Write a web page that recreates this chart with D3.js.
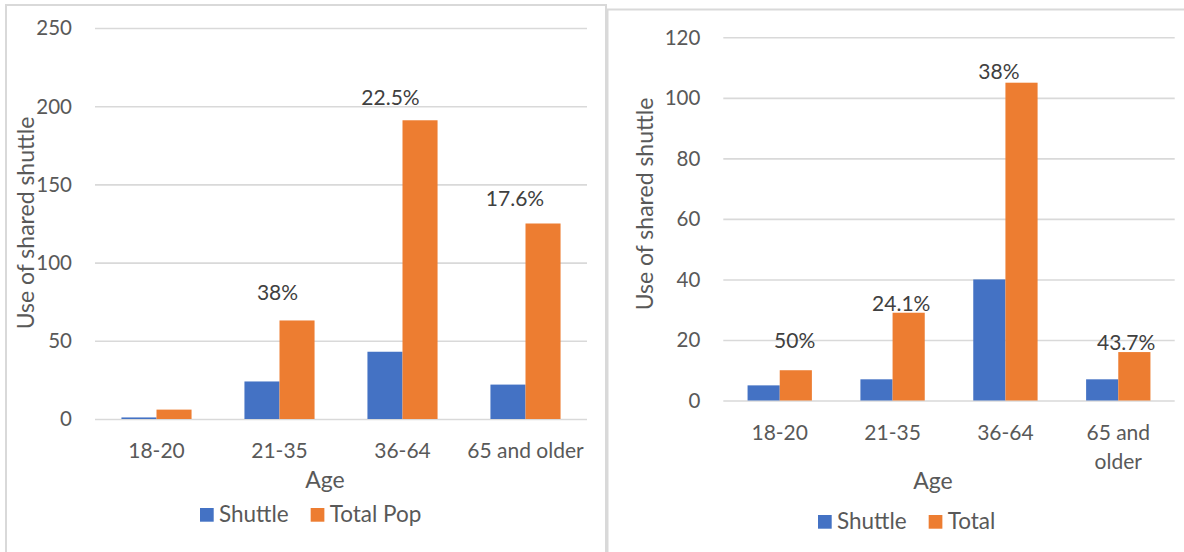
<!DOCTYPE html>
<html>
<head>
<meta charset="utf-8">
<script src="https://cdn.jsdelivr.net/npm/d3@7"></script>
<style>
  html, body { margin: 0; padding: 0; background: #ffffff; }
  svg { display: block; }
  text { font-family: Lato, "Open Sans", "DejaVu Sans", sans-serif; }
</style>
</head>
<body>
<svg id="chart" width="1184" height="552"></svg>
<script>
// ---------------- data ----------------
const categories = ["18-20", "21-35", "36-64", "65 and older"];

const leftSeries = ["Shuttle", "Total Pop"];
const leftShuttle = [1, 24, 43, 22];
const leftTotal = [6, 63, 191, 125];
const leftPctLabels = ["", "38%", "22.5%", "17.6%"];
const leftTicks = [0, 50, 100, 150, 200, 250];

const rightSeries = ["Shuttle", "Total"];
const rightShuttle = [5, 7, 40, 7];
const rightTotal = [10, 29, 105, 16];
const rightPctLabels = ["50%", "24.1%", "38%", "43.7%"];
const rightTicks = [0, 20, 40, 60, 80, 100, 120];

const yTitle = "Use of shared shuttle";
const xTitle = "Age";

// ---------------- styles ----------------
const colors = ["#4472C4", "#ED7D31"];
const textGray = "#595959";
const labelGray = "#404040";
const gridGray = "#d9d9d9";

const svg = d3.select("#chart");

// panel borders
svg.append("rect").attr("x", 6).attr("y", 5).attr("width", 600).attr("height", 560)
  .attr("fill", "none").attr("stroke", gridGray).attr("stroke-width", 2);
svg.append("rect").attr("x", 607.5).attr("y", 9.5).attr("width", 600).attr("height", 560)
  .attr("fill", "none").attr("stroke", gridGray).attr("stroke-width", 2);

function drawChart(cfg) {
  const g = svg.append("g");
  const x = d3.scaleBand().domain(categories).range([cfg.x0, cfg.x1])
    .paddingInner(0.43).paddingOuter(0.215);
  const xs = d3.scaleBand().domain(cfg.series).range([0, x.bandwidth()]).padding(0);
  const y = d3.scaleLinear().domain([0, cfg.ticks[cfg.ticks.length - 1]]).range([cfg.y0, cfg.yTop]);

  // gridlines + y tick labels via axis
  const yAxis = d3.axisLeft(y).tickValues(cfg.ticks).tickSize(-(cfg.x1 - cfg.x0)).tickPadding(23)
    .tickFormat(d3.format("d"));
  const ya = g.append("g").attr("transform", `translate(${cfg.x0},0)`).call(yAxis);
  ya.select(".domain").remove();
  ya.selectAll(".tick line").attr("stroke", gridGray).attr("stroke-width", 1.6);
  ya.selectAll(".tick text").attr("fill", textGray).attr("font-size", 20.5).attr("dy", "0.34em");

  // bars
  const rows = categories.map((c, i) => ({ cat: c, vals: [cfg.shuttle[i], cfg.total[i]] }));
  const grp = g.selectAll(".grp").data(rows).join("g")
    .attr("transform", d => `translate(${x(d.cat)},0)`);
  grp.selectAll("rect").data(d => d.vals.map((v, k) => ({ key: cfg.series[k], v, k })))
    .join("rect")
    .attr("x", d => xs(d.key))
    .attr("width", xs.bandwidth())
    .attr("y", d => y(d.v))
    .attr("height", d => y(0) - y(d.v))
    .attr("fill", d => colors[d.k]);

  // x axis labels
  const xAxis = d3.axisBottom(x).tickSize(0).tickPadding(0);
  const xa = g.append("g").attr("transform", `translate(0,${cfg.y0})`).call(xAxis);
  xa.select(".domain").remove();
  xa.selectAll(".tick text").each(function(d) {
    const t = d3.select(this);
    t.attr("fill", textGray).attr("font-size", 21).attr("y", 39).attr("dy", null);
    const words = d.split(" ");
    t.text(d);
    if (this.getComputedTextLength() > cfg.wrapWidth) {
      t.text(null);
      const first = words.slice(0, words.length - 1).join(" ");
      const last = words[words.length - 1];
      t.append("tspan").attr("x", 0).attr("y", 39).text(first);
      t.append("tspan").attr("x", 0).attr("dy", 29).text(last);
    }
  });

  // percentage labels
  rows.forEach((r, i) => {
    const txt = cfg.pct[i];
    if (!txt) return;
    const n = cfg.pctNudge[i];
    g.append("text")
      .attr("x", x(r.cat) + x.bandwidth() / 2 + n[0])
      .attr("y", y(cfg.total[i]) + n[1])
      .attr("text-anchor", "middle")
      .attr("fill", labelGray)
      .attr("font-size", 21)
      .text(txt);
  });

  // axis titles
  g.append("text")
    .attr("transform", `translate(${cfg.yTitleX},${cfg.yTitleY}) rotate(-90)`)
    .attr("text-anchor", "middle").attr("fill", textGray).attr("font-size", 23)
    .text(yTitle);
  g.append("text")
    .attr("x", (cfg.x0 + cfg.x1) / 2 - 16).attr("y", cfg.xTitleY)
    .attr("text-anchor", "middle").attr("fill", textGray).attr("font-size", 23)
    .text(xTitle);

  // legend
  const leg = g.append("g").attr("transform", `translate(${cfg.legX},${cfg.legY})`);
  let cx = 0;
  cfg.series.forEach((s, k) => {
    leg.append("rect").attr("x", cx).attr("y", -13.7).attr("width", 13.7).attr("height", 13.7)
      .attr("fill", colors[k]);
    const t = leg.append("text").attr("x", cx + 19).attr("y", 0)
      .attr("fill", textGray).attr("font-size", 22.5).text(s);
    cx += 19 + t.node().getComputedTextLength() + 22;
  });
}

drawChart({
  x0: 95, x1: 587, y0: 419, yTop: 28,
  ticks: leftTicks, series: leftSeries, shuttle: leftShuttle, total: leftTotal,
  pct: leftPctLabels,
  pctNudge: [[0, -20], [-2, -20.7], [-12, -15], [-10.5, -18]],
  wrapWidth: 140,
  yTitleX: 33.5, yTitleY: 223,
  xTitleY: 488.3,
  legX: 200, legY: 521.7
});

drawChart({
  x0: 723.3, x1: 1174.7, y0: 400.5, yTop: 37.3,
  ticks: rightTicks, series: rightSeries, shuttle: rightShuttle, total: rightTotal,
  pct: rightPctLabels,
  pctNudge: [[15, -22.2], [8.7, -1.7], [-6.5, -3.9], [7.9, -2.5]],
  wrapWidth: 100,
  yTitleX: 652.5, yTitleY: 204,
  xTitleY: 489,
  legX: 818, legY: 528.7
});
</script>
</body>
</html>
